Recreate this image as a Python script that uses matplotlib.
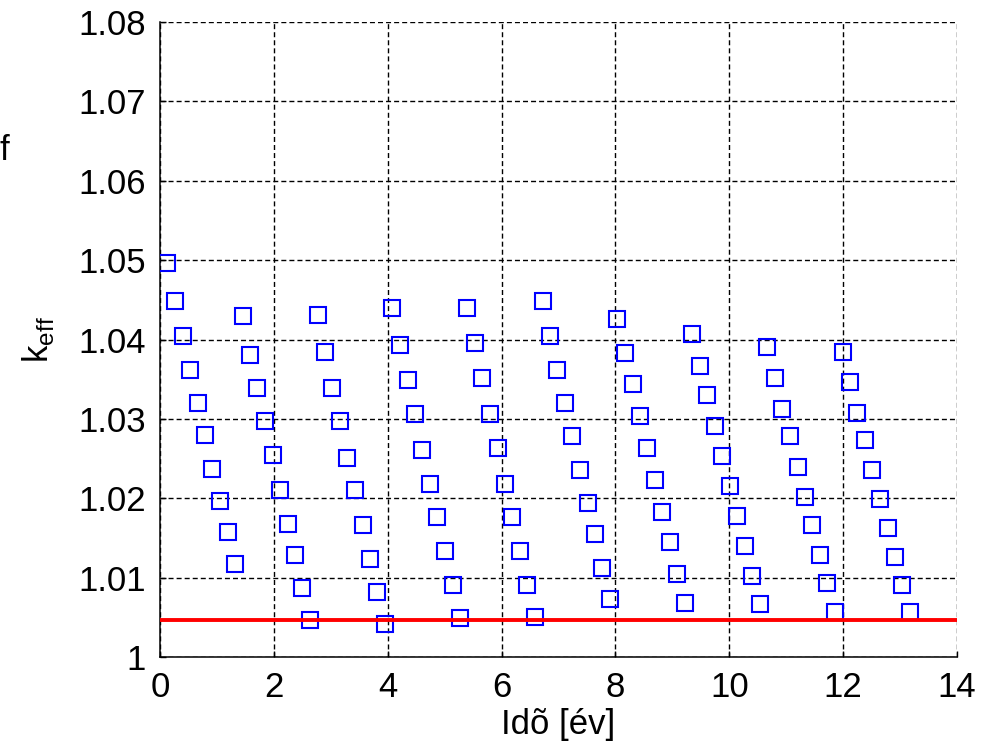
import matplotlib
matplotlib.use("Agg")
import matplotlib.pyplot as plt

plt.rcParams['font.family'] = ['Liberation Sans', 'DejaVu Sans']

# burnup time points [years], 10 per cycle
time_c1 = [0.13, 0.26, 0.40, 0.53, 0.66, 0.79, 0.92, 1.05, 1.19, 1.32]
time_c2 = [1.45, 1.58, 1.71, 1.84, 1.98, 2.11, 2.24, 2.37, 2.50, 2.63]
time_c3 = [2.77, 2.90, 3.03, 3.16, 3.29, 3.42, 3.56, 3.69, 3.82, 3.95]
time_c4 = [4.08, 4.21, 4.35, 4.48, 4.61, 4.74, 4.87, 5.00, 5.14, 5.27]
time_c5 = [5.40, 5.53, 5.66, 5.80, 5.93, 6.06, 6.19, 6.32, 6.45, 6.59]
time_c6 = [6.72, 6.85, 6.98, 7.11, 7.24, 7.38, 7.51, 7.64, 7.77, 7.90]
time_c7 = [8.03, 8.17, 8.30, 8.43, 8.56, 8.69, 8.82, 8.96, 9.09, 9.22]
time_c8 = [9.35, 9.48, 9.61, 9.75, 9.88, 10.01, 10.14, 10.27, 10.40, 10.54]
time_c9 = [10.67, 10.80, 10.93, 11.06, 11.20, 11.33, 11.46, 11.59, 11.72, 11.85]
time_c10 = [11.99, 12.12, 12.25, 12.38, 12.51, 12.64, 12.78, 12.91, 13.04, 13.17]

keff_c1 = [1.0497, 1.0448, 1.0404, 1.0362, 1.0320, 1.0280, 1.0237, 1.0197, 1.0157, 1.0117]
keff_c2 = [1.0429, 1.0381, 1.0339, 1.0297, 1.0254, 1.0211, 1.0168, 1.0129, 1.0087, 1.0047]
keff_c3 = [1.0431, 1.0384, 1.0339, 1.0297, 1.0251, 1.0210, 1.0166, 1.0124, 1.0082, 1.0042]
keff_c4 = [1.0440, 1.0393, 1.0349, 1.0306, 1.0261, 1.0218, 1.0176, 1.0133, 1.0091, 1.0049]
keff_c5 = [1.0440, 1.0395, 1.0351, 1.0306, 1.0263, 1.0218, 1.0176, 1.0133, 1.0091, 1.0051]
keff_c6 = [1.0448, 1.0405, 1.0361, 1.0320, 1.0278, 1.0235, 1.0194, 1.0155, 1.0112, 1.0073]
keff_c7 = [1.0426, 1.0383, 1.0344, 1.0303, 1.0263, 1.0223, 1.0183, 1.0145, 1.0105, 1.0068]
keff_c8 = [1.0407, 1.0367, 1.0330, 1.0291, 1.0253, 1.0215, 1.0178, 1.0140, 1.0102, 1.0067]
keff_c9 = [1.0391, 1.0351, 1.0313, 1.0278, 1.0239, 1.0202, 1.0166, 1.0129, 1.0093, 1.0057]
keff_c10 = [1.0384, 1.0346, 1.0308, 1.0273, 1.0235, 1.0199, 1.0162, 1.0126, 1.0091, 1.0057]

keff_limit = 1.0047

xticks = [0, 2, 4, 6, 8, 10, 12, 14]
yticks = [1.00, 1.01, 1.02, 1.03, 1.04, 1.05, 1.06, 1.07, 1.08]
ytick_labels = ['1', '1.01', '1.02', '1.03', '1.04', '1.05', '1.06', '1.07', '1.08']

time = time_c1 + time_c2 + time_c3 + time_c4 + time_c5 + time_c6 + time_c7 + time_c8 + time_c9 + time_c10
keff = keff_c1 + keff_c2 + keff_c3 + keff_c4 + keff_c5 + keff_c6 + keff_c7 + keff_c8 + keff_c9 + keff_c10

fig = plt.figure(figsize=(9.87, 7.46), dpi=100)
ax = fig.add_axes([0.1621, 0.1193, 0.8075, 0.8512])

ax.plot(time, keff, 's', mfc='none', mec='#0000ff', ms=11, mew=1.5, zorder=3)
ax.axhline(keff_limit, color='red', lw=2.8, zorder=4)

ax.set_xlim(0, 14)
ax.set_ylim(1.0, 1.08)
ax.set_xticks(xticks)
ax.set_yticks(yticks)
ax.set_yticklabels(ytick_labels)
ax.grid(True, color='black', linestyle=(0, (3.6, 2.2)), linewidth=1.0)
ax.set_axisbelow(True)

ax.spines['top'].set_visible(False)
ax.spines['right'].set_visible(False)
ax.spines['left'].set_linewidth(1.1)
ax.spines['bottom'].set_linewidth(1.1)
ax.tick_params(direction='in', length=4, width=1, labelsize=25, pad=10,
               top=False, right=False)

ax.set_xlabel('Idõ [év]', fontsize=25, labelpad=3)
ax.set_ylabel(r'k$_{\mathregular{eff}}$', fontsize=25, labelpad=16)

fig.text(0.0, 1 - 150 / 746, 'f', fontsize=25, ha='left', va='center')

fig.savefig('out.png', dpi=100)
